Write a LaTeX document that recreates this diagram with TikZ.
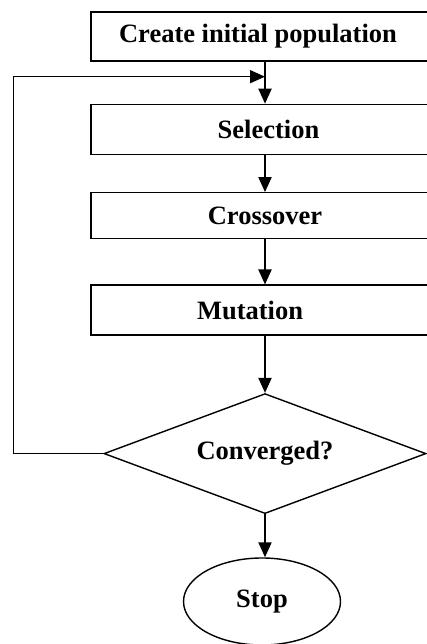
\documentclass[tikz,border=0pt]{standalone}
\usepackage{fontspec}
\setmainfont{Liberation Serif}
\usepackage{tikz}
\usetikzlibrary{arrows.meta,positioning,shapes.geometric}

\begin{document}
\begin{tikzpicture}[x=1pt,y=1pt]
	\tikzstyle{stepbox} = [draw,line width=1.4pt,minimum width=348pt,minimum height=49pt,inner sep=0,font=\fontsize{26.5}{30}\selectfont\bfseries];
	\tikzstyle{decision} = [draw,diamond,aspect=2.68,line width=1.4pt,minimum width=322pt,minimum height=120pt,inner sep=0,font=\fontsize{26.5}{30}\selectfont\bfseries];
	\tikzstyle{terminal} = [draw,ellipse,line width=1.4pt,minimum width=157pt,minimum height=87pt,inner sep=0,font=\fontsize{26.5}{30}\selectfont\bfseries];
	\tikzstyle{flow} = [line width=2pt,-{Triangle[length=15pt,width=13pt]}];
	\useasboundingbox (0,0) rectangle (427,644);
	\clip (0,0) rectangle (427,644);
	\node at (265,607.5) (create) [stepbox] {\hspace*{-14pt}Create initial population};
	\node (select) [below=42pt of create,stepbox,minimum height=50pt] {\hspace*{7pt}Selection};
	\node (cross) [below=37pt of select,stepbox,minimum height=46pt] {Crossover};
	\node (mutate) [below=45pt of cross,stepbox,minimum height=50pt] {\hspace*{-30pt}Mutation};
	\node (conv) [below=57pt of mutate,decision] {Converged?};
	\node (stop) [below=43pt of conv,xshift=-3pt,terminal] {Stop};
	\path (create.south) ++(0,-15pt) coordinate (join);
	\draw[flow] (create) -- (select);
	\draw[flow] (select) -- (cross);
	\draw[flow] (cross) -- (mutate);
	\draw[flow] (mutate) -- (conv);
	\draw[flow] (conv) -- (conv.south |- stop.north);
	\draw[flow,line width=1.6pt] (conv.west) -- ++(-90pt,0) |- (join);
\end{tikzpicture}
\end{document}
